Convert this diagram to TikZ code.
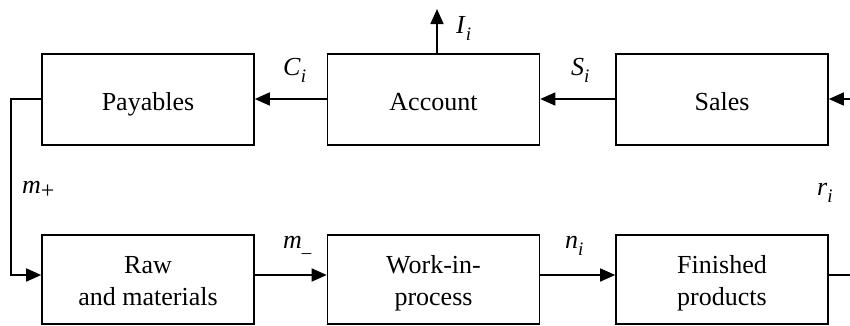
\documentclass[tikz,border=0pt]{standalone}
\usepackage{fontspec}
\setmainfont{Liberation Serif}
\usetikzlibrary{arrows.meta,calc}
\newcommand{\sbi}[1]{\raisebox{-0.3em}{\fontsize{19}{19}\selectfont #1}}
\begin{document}
\begin{tikzpicture}[x=1pt,y=-1pt,
  box/.style={draw,line width=1.6pt,minimum width=212pt,align=center,inner sep=0pt,
    font=\fontsize{26}{32}\selectfont},
  topbox/.style={box,minimum height=91pt,text height=25pt,text depth=4pt},
  botbox/.style={box,minimum height=89pt,text height=57pt,text depth=5pt},
  flow/.style={line width=1.6pt,-{Triangle[length=15pt,width=13pt]}},
  lab/.style={font=\fontsize{26}{30}\selectfont,inner sep=0pt}]
\clip (0,0) rectangle (850,325);
\node[topbox] (pay) at (148,99.5) {Payables};
\node[topbox] (acc) at (433.5,99.5) {Account};
\node[topbox] (sal) at (722,99.5) {Sales};
\node[botbox] (raw) at (148,279.5) {Raw\\and materials};
\node[botbox] (wip) at (433.5,279.5) {Work-in-\\process};
\node[botbox] (fin) at (722,279.5) {Finished\\products};
\coordinate (L1) at (11,99);
\coordinate (L2) at (11,275);
\coordinate (R1) at (870,275);
\coordinate (R2) at (870,99);
\coordinate (Itop) at (437,9);
% top row
\draw[flow] ([yshift=0.5pt]acc.west) -- ([yshift=0.5pt]pay.east);
\draw[flow] ([yshift=0.5pt]sal.west) -- ([yshift=0.5pt]acc.east);
\draw[flow] ([xshift=3.5pt]acc.north) -- (Itop);
% left loop
\draw[flow] ([yshift=0.5pt]pay.west) -- ([yshift=0.5pt]pay.west -| L1) -- (L2) -- ([yshift=4.5pt]raw.west);
% bottom row
\draw[flow] ([yshift=4.5pt]raw.east) -- ([yshift=4.5pt]wip.west);
\draw[flow] ([yshift=4.5pt]wip.east) -- ([yshift=4.5pt]fin.west);
% right loop
\draw[flow] ([yshift=4.5pt]fin.east) -- ([yshift=4.5pt]fin.east -| R1) -- (R2) -- ([yshift=0.5pt]sal.east);
% labels
\node[lab,anchor=base west] (lC) at (283,75) {\textit{C}\sbi{\textit{i}}};
\node[lab,anchor=base west] (lS) at (571,75) {\textit{S}\sbi{\textit{i}}};
\node[lab,anchor=base west] (lI) at (456,33) {\textit{I}\sbi{\textit{i}}};
\node[lab,anchor=base west] (lmp) at (22,193) {\textit{m}\raisebox{-0.2em}{\fontsize{24}{24}\selectfont +}};
\node[lab,anchor=base west] (lmm) at (283,248) {\textit{m}\sbi{\raisebox{-0.15em}{–}}};
\node[lab,anchor=base west] (ln) at (565,248) {\textit{n}\sbi{\textit{i}}};
\node[lab,anchor=base west] (lr) at (817,195) {\textit{r}\sbi{\textit{i}}};
\end{tikzpicture}
\end{document}
